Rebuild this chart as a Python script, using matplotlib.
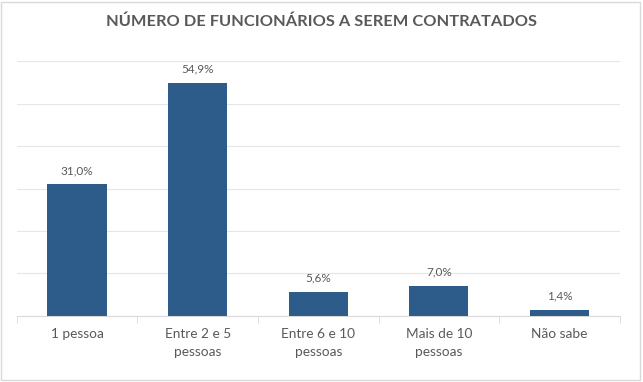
import matplotlib.pyplot as plt
from matplotlib.patches import Rectangle

categorias = ["1 pessoa", "Entre 2 e 5\npessoas", "Entre 6 e 10\npessoas", "Mais de 10\npessoas", "Não sabe"]
valores = [31.0, 54.9, 5.6, 7.0, 1.4]
rotulos = ["31,0%", "54,9%", "5,6%", "7,0%", "1,4%"]
titulo = "NÚMERO DE FUNCIONÁRIOS A SEREM CONTRATADOS"

plt.rcParams['font.family'] = ['Lato', 'DejaVu Sans']

fig = plt.figure(figsize=(6.43, 3.82), dpi=100)
ax = fig.add_axes([0.026, 0.173, 0.938, 0.667])

x = range(len(categorias))
bars = ax.bar(x, valores, width=0.49, color='#2E5C8A', zorder=3)

for b, r in zip(bars, rotulos):
    ax.annotate(r, (b.get_x() + b.get_width() / 2, b.get_height()),
                xytext=(0, 6), textcoords='offset points',
                ha='center', va='bottom', fontsize=8.5, color='#595959')

ax.set_xlim(-0.5, len(categorias) - 0.5)
ax.set_ylim(0, 60)
ax.set_yticks(range(0, 61, 10))
ax.yaxis.grid(True, color='#E6E6E6', linewidth=0.8, zorder=0)
ax.tick_params(axis='y', left=False, labelleft=False)

ax.set_xticks(list(x))
ax.set_xticklabels(categorias, fontsize=9.8, color='#595959', linespacing=1.6)
ax.set_xticks([i + 0.5 for i in range(-1, len(categorias))], minor=True)
ax.tick_params(axis='x', which='major', length=0, pad=9)
ax.tick_params(axis='x', which='minor', length=5, color='#D9D9D9')

for s in ['top', 'right', 'left']:
    ax.spines[s].set_visible(False)
ax.spines['bottom'].set_color('#D9D9D9')

fig.text(0.5, 0.942, titulo, ha='center', va='center', fontsize=11.8,
         fontweight='bold', color='#595959')

fig.patches.append(Rectangle((0.002, 0.005), 0.994, 0.99, transform=fig.transFigure,
                             fill=False, edgecolor='#D9D9D9', linewidth=1))

fig.savefig('out.png', dpi=100)
